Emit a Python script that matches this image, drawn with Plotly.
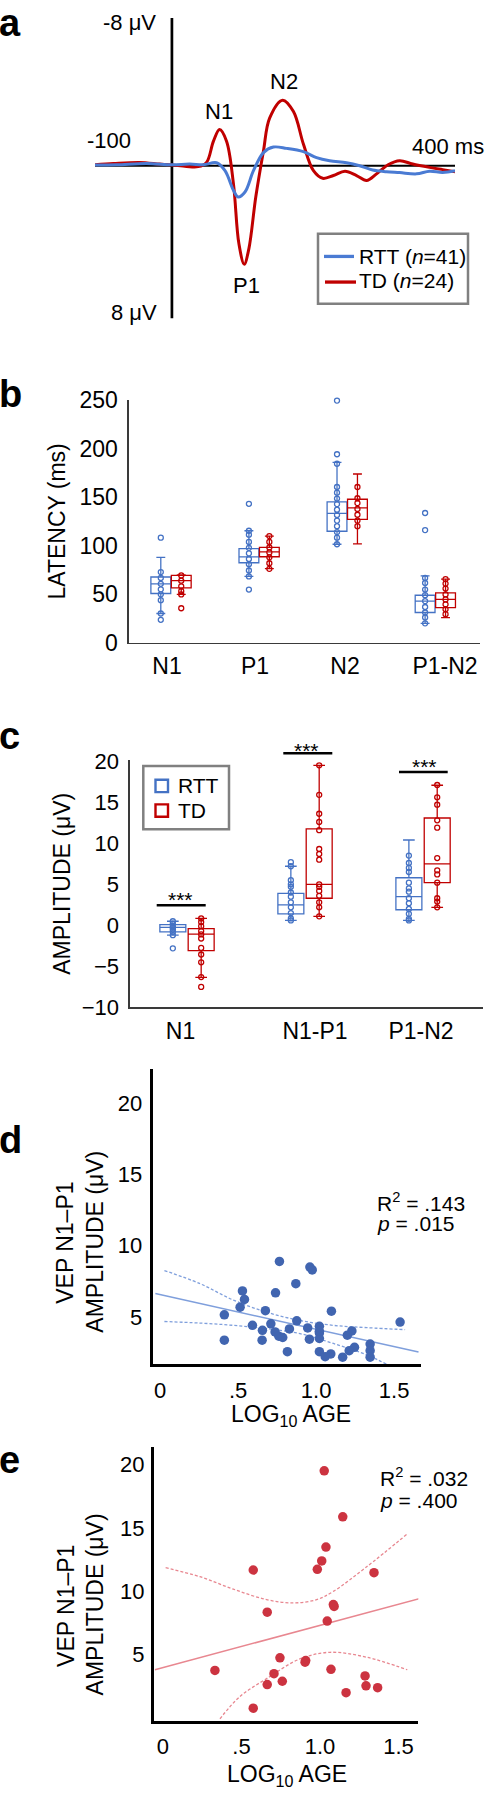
import plotly.graph_objects as go

W, H = 489, 1800
FONT = "Arial, 'Liberation Sans', sans-serif"
BLUE = "#4472C4"
RED = "#C00000"
DBLUE = "#4165B0"
LBLUE = "#7F9FDC"
DRED = "#CC3340"
LRED = "#E88790"

# ---------------- Panel a: grand-average VEP waveforms ----------------
rtt_t = [-100, -72, -33, 0, 23, 41, 58, 69, 80, 86, 95, 106, 119, 132, 149, 171, 188,
         205, 227, 244, 261, 279, 296, 318, 335, 352, 368]
rtt_uv = [-0.04, -0.05, -0.12, -0.05, -0.09, -0.05, -0.16, 0.27, 1.33, 1.69, 1.42, 0.27,
          -0.71, -1.01, -0.94, -0.76, -0.44, -0.27, -0.16, 0.0, 0.23, 0.32, 0.37, 0.44,
          0.30, 0.36, 0.27]
td_t = [-100, -76, -42, -16, 0, 19, 34, 45, 54, 62, 71, 80, 87, 94, 100, 109, 119, 127,
        144, 158, 171, 184, 196, 210, 225, 240, 253, 266, 281, 296, 313, 335, 352, 368]
td_uv = [-0.05, -0.12, -0.18, -0.09, -0.04, 0.04, 0.05, -0.18, -1.33, -1.96, -1.33, 0.98,
         4.2, 5.33, 4.5, 1.69, -0.8, -2.58, -3.55, -2.93, -1.16, 0.27, 0.68, 0.53, 0.30,
         0.53, 0.80, 0.44, -0.05, -0.27, -0.09, 0.09, 0.21, 0.32]

# ---------------- Panel b: latency box plots ----------------
lat_cats = ["N1", "P1", "N2", "P1-N2"]
lat_rtt_q1 = [50.8, 82.5, 115.0, 31.2]
lat_rtt_med = [60.7, 88.5, 133.4, 43.0]
lat_rtt_q3 = [67.8, 97.0, 145.3, 49.0]
lat_rtt_lo = [30.2, 68.4, 101.6, 20.0]
lat_rtt_hi = [88.0, 115.5, 186.0, 69.0]
lat_td_q1 = [56.6, 88.7, 127.3, 36.3]
lat_td_med = [64.0, 93.8, 139.0, 44.7]
lat_td_q3 = [69.4, 98.3, 148.0, 51.5]
lat_td_lo = [49.8, 76.5, 102.0, 26.0]
lat_td_hi = [70.0, 110.0, 174.0, 65.7]
lat_rtt_pts = [
    [108.4, 72.9, 66.9, 60.8, 55.1, 49.9, 43.9, 30.2, 23.7],
    [143.3, 115.5, 111.5, 104.0, 97.9, 92.2, 86.4, 81.0, 74.5, 68.4, 54.9],
    [249.7, 194.4, 184.6, 160.6, 154.8, 148.7, 143.0, 137.2, 131.8, 126.0, 120.2, 114.1,
     108.4, 101.6],
    [133.8, 116.2, 66.8, 61.7, 54.9, 49.1, 43.0, 36.9, 31.2, 26.1, 20.0],
]
lat_td_pts = [
    [69.4, 64.0, 58.2, 53.2, 49.8, 35.6],
    [110.0, 104.0, 98.3, 93.2, 88.1, 82.0, 76.2],
    [160.6, 149.0, 144.0, 138.0, 132.0, 126.0, 120.2],
    [65.7, 61.0, 55.9, 49.8, 44.7, 39.6, 34.6, 29.5],
]
lat_label_pos = [-0.045, 0.953, 1.975, 3.11]

# ---------------- Panel c: amplitude box plots ----------------
amp_cats = ["N1", "N1-P1", "P1-N2"]
amp_rtt_q1 = [-0.8, 1.4, 1.9]
amp_rtt_med = [-0.25, 2.5, 3.5]
amp_rtt_q3 = [0.1, 3.9, 5.8]
amp_rtt_lo = [-1.2, 0.6, 0.6]
amp_rtt_hi = [0.5, 7.2, 10.4]
amp_td_q1 = [-3.07, 3.3, 5.2]
amp_td_med = [-1.08, 5.0, 7.5]
amp_td_q3 = [-0.4, 11.76, 13.08]
amp_td_lo = [-6.35, 1.1, 2.2]
amp_td_hi = [0.84, 19.5, 17.07]
amp_rtt_pts = [
    [0.5, 0.2, -0.1, -0.3, -0.5, -0.8, -1.2, -2.8],
    [7.7, 7.2, 5.5, 5.0, 4.7, 4.0, 3.5, 2.8, 2.2, 1.5, 0.84, 0.6],
    [8.5, 7.6, 7.0, 6.5, 5.2, 4.5, 4.1, 3.3, 2.7, 2.0, 1.4, 0.8, 0.6],
]
amp_td_pts = [
    [0.84, 0.4, -0.1, -0.7, -1.1, -1.6, -2.75, -3.55, -4.5, -6.3, -7.5],
    [19.5, 15.9, 13.6, 12.6, 11.6, 9.3, 8.7, 8.0, 5.0, 4.7, 4.2, 3.6, 2.8, 2.2, 1.1],
    [17.1, 15.6, 14.7, 12.8, 11.9, 8.2, 6.7, 6.2, 5.2, 3.3, 2.9, 2.2],
]
amp_label_pos = [-0.055, 1.085, 1.983]

# ---------------- Panel d: RTT amplitude vs log age ----------------
d_age = [0.765, 0.96, 0.975, 0.87, 0.74, 0.528, 0.541, 0.513, 0.675, 1.098, 0.412, 1.538,
         0.876, 0.71, 0.592, 0.946, 1.021, 0.829, 0.656, 0.737, 1.021, 1.229, 1.20, 0.761,
         0.786, 0.412, 0.654, 0.957, 1.021, 1.346, 0.816, 1.246, 1.212, 1.346, 1.021,
         1.094, 1.058, 1.17, 1.346, 1.021]
d_amp = [8.90, 8.50, 8.30, 7.34, 6.70, 6.83, 6.24, 5.69, 5.45, 5.41, 5.16, 4.65, 4.74,
         4.53, 4.42, 4.24, 4.35, 4.17, 4.07, 3.96, 3.89, 4.03, 3.73, 3.66, 3.57, 3.38, 3.38,
         3.45, 3.50, 3.11, 2.58, 2.88, 2.65, 2.65, 2.58, 2.42, 2.23, 2.19, 2.19, 4.00]
d_fit_x = [-0.03, 1.656]
d_fit_y = [6.65, 2.55]
d_ci_x = [0.028, 0.256, 0.47, 0.684, 0.897, 1.111, 1.325, 1.57]
d_ci_hi = [8.26, 7.34, 6.19, 5.34, 4.76, 4.42, 4.26, 4.12]
d_cilo_x = [0.028, 0.256, 0.47, 0.684, 0.897, 1.111, 1.325, 1.45]
d_ci_lo = [4.69, 4.58, 4.42, 4.19, 3.84, 3.15, 2.35, 1.70]

# ---------------- Panel e: TD amplitude vs log age ----------------
e_age = [1.027, 1.145, 1.038, 1.011, 0.983, 0.575, 1.344, 1.085, 1.09, 0.664, 1.046, 0.745,
         0.909, 0.905, 0.331, 1.07, 0.707, 0.76, 0.664, 1.287, 1.293, 1.367, 1.166, 0.575]
e_amp = [19.52, 15.88, 13.49, 12.40, 11.73, 11.68, 11.47, 8.95, 8.80, 8.35, 7.65, 4.74,
         4.53, 4.40, 3.75, 3.83, 3.49, 2.89, 2.63, 3.31, 2.53, 2.38, 1.99, 0.76]
e_fit_x = [-0.051, 1.648]
e_fit_y = [3.80, 9.47]
e_ci_x = [0.017, 0.236, 0.448, 0.66, 0.83, 0.979, 1.085, 1.297, 1.556]
e_ci_hi = [11.86, 11.15, 10.17, 9.34, 9.08, 9.34, 9.99, 11.93, 14.53]
e_cilo_x = [0.363, 0.49, 0.66, 0.873, 1.064, 1.297, 1.556]
e_ci_lo = [-0.07, 1.68, 3.10, 4.66, 5.18, 4.79, 3.80]


def X(px):
    return px / W


def Y(py):
    return 1 - py / H


fig = go.Figure()

# panel a traces
fig.add_trace(go.Scatter(x=td_t, y=td_uv, mode="lines", xaxis="x", yaxis="y",
                         line=dict(color=RED, width=3, shape="spline")))
fig.add_trace(go.Scatter(x=rtt_t, y=rtt_uv, mode="lines", xaxis="x", yaxis="y",
                         line=dict(color="#4A7BD3", width=3, shape="spline")))


def add_boxes(ax, ay, n, off, width, q1, med, q3, lo, hi, pts, color):
    pos = [i + off for i in range(n)]
    fig.add_trace(go.Box(x=pos, q1=q1, median=med, q3=q3, lowerfence=lo, upperfence=hi,
                         orientation="v", width=width, whiskerwidth=0.45,
                         line=dict(color=color, width=1.3), fillcolor="rgba(255,255,255,0)",
                         boxpoints=False, xaxis=ax, yaxis=ay, hoverinfo="skip"))
    xs, ys = [], []
    for p, vals in zip(pos, pts):
        xs += [p] * len(vals)
        ys += vals
    fig.add_trace(go.Scatter(x=xs, y=ys, mode="markers", xaxis=ax, yaxis=ay,
                             cliponaxis=False,
                             marker=dict(symbol="circle-open", size=5, color=color,
                                         line=dict(width=1.3))))


add_boxes("x2", "y2", 4, -0.116, 0.225, lat_rtt_q1, lat_rtt_med, lat_rtt_q3, lat_rtt_lo,
          lat_rtt_hi, lat_rtt_pts, BLUE)
add_boxes("x2", "y2", 4, 0.116, 0.225, lat_td_q1, lat_td_med, lat_td_q3, lat_td_lo,
          lat_td_hi, lat_td_pts, RED)
add_boxes("x3", "y3", 3, -0.12, 0.22, amp_rtt_q1, amp_rtt_med, amp_rtt_q3, amp_rtt_lo,
          amp_rtt_hi, amp_rtt_pts, BLUE)
add_boxes("x3", "y3", 3, 0.12, 0.22, amp_td_q1, amp_td_med, amp_td_q3, amp_td_lo,
          amp_td_hi, amp_td_pts, RED)

# panel d
fig.add_trace(go.Scatter(x=d_fit_x, y=d_fit_y, mode="lines", xaxis="x4", yaxis="y4",
                         line=dict(color=LBLUE, width=1.5)))
fig.add_trace(go.Scatter(x=d_ci_x, y=d_ci_hi, mode="lines", xaxis="x4", yaxis="y4",
                         line=dict(color=LBLUE, width=1.3, dash="3px,2px", shape="spline")))
fig.add_trace(go.Scatter(x=d_cilo_x, y=d_ci_lo, mode="lines", xaxis="x4", yaxis="y4",
                         line=dict(color=LBLUE, width=1.3, dash="3px,2px", shape="spline")))
fig.add_trace(go.Scatter(x=d_age, y=d_amp, mode="markers", xaxis="x4", yaxis="y4",
                         cliponaxis=False, marker=dict(size=9.5, color=DBLUE)))

# panel e
fig.add_trace(go.Scatter(x=e_fit_x, y=e_fit_y, mode="lines", xaxis="x5", yaxis="y5",
                         line=dict(color=LRED, width=1.5)))
fig.add_trace(go.Scatter(x=e_ci_x, y=e_ci_hi, mode="lines", xaxis="x5", yaxis="y5",
                         line=dict(color=LRED, width=1.3, dash="3px,2px", shape="spline")))
fig.add_trace(go.Scatter(x=e_cilo_x, y=e_ci_lo, mode="lines", xaxis="x5", yaxis="y5",
                         line=dict(color=LRED, width=1.3, dash="3px,2px", shape="spline")))
fig.add_trace(go.Scatter(x=e_age, y=e_amp, mode="markers", xaxis="x5", yaxis="y5",
                         cliponaxis=False, marker=dict(size=9.5, color=DRED)))

TICKF = dict(family=FONT, size=22, color="black")
TICKF_B = dict(family=FONT, size=23, color="black")


def xax(dom, rng, anchor, **kw):
    d = dict(domain=[X(dom[0]), X(dom[1])], range=rng, anchor=anchor, showgrid=False,
             zeroline=False, ticks="", tickfont=TICKF, fixedrange=True)
    d.update(kw)
    return d


def yax(dom, rng, anchor, **kw):
    d = dict(domain=[Y(dom[1]), Y(dom[0])], range=rng, anchor=anchor, showgrid=False,
             zeroline=False, ticks="", tickfont=TICKF, fixedrange=True)
    d.update(kw)
    return d


AX_B = dict(showline=True, linecolor="#3a3a3a", linewidth=1.6)
AX_D = dict(showline=True, linecolor="black", linewidth=3)

layout = dict(
    width=W, height=H, autosize=False, margin=dict(l=0, r=0, t=0, b=0),
    paper_bgcolor="white", plot_bgcolor="white", showlegend=False,
    font=dict(family=FONT, size=22, color="black"),
    xaxis=xax((95, 455), [-100, 368], "y", visible=False),
    yaxis=yax((5, 310), [8.27, -8], "x", visible=False),
    xaxis2=xax((129, 480), [-0.477, 3.507], "y2", tickvals=lat_label_pos,
               ticktext=lat_cats, ticklabelstandoff=2, tickfont=TICKF_B, **AX_B),
    yaxis2=yax((393, 639), [0, 250], "x2", tickvals=[0, 50, 100, 150, 200, 250],
               ticklabelstandoff=5, tickfont=TICKF_B, **AX_B),
    xaxis3=xax((130, 483), [-0.483, 2.508], "y3", tickvals=amp_label_pos,
               ticktext=amp_cats, ticklabelstandoff=2, tickfont=TICKF_B, **AX_B),
    yaxis3=yax((757.5, 1009), [-10, 20.2], "x3", tickvals=[-10, -5, 0, 5, 10, 15, 20],
               ticklabelstandoff=5, **AX_B),
    xaxis4=xax((152.7, 420.7), [-0.047, 1.67], "y4", tickvals=[0, 0.5, 1.0, 1.5],
               ticktext=["0", ".5", "1.0", "1.5"], ticklabelstandoff=4, **AX_D),
    yaxis4=yax((1071.7, 1371), [1.7, 22.36], "x4", tickvals=[5, 10, 15, 20],
               ticklabelstandoff=3, **AX_D),
    xaxis5=xax((154, 418.3), [-0.057, 1.626], "y5", tickvals=[0, 0.5, 1.0, 1.5],
               ticktext=["0", ".5", "1.0", "1.5"], ticklabelstandoff=3, **AX_D),
    yaxis5=yax((1455, 1733.3), [-0.27, 21.4], "x5", tickvals=[5, 10, 15, 20],
               ticklabelstandoff=2, **AX_D),
)


def hline(x0, x1, y, color="black", width=2.5):
    return dict(type="line", xref="paper", yref="paper", x0=X(x0), x1=X(x1), y0=Y(y),
                y1=Y(y), line=dict(color=color, width=width))


def rect(x0, x1, y0, y1, color, width):
    return dict(type="rect", xref="paper", yref="paper", x0=X(x0), x1=X(x1), y0=Y(y1),
                y1=Y(y0), line=dict(color=color, width=width), fillcolor="rgba(0,0,0,0)")


shapes = [
    dict(type="line", xref="x", yref="y", x0=0, x1=0, y0=-8, y1=8.27, layer="below",
         line=dict(color="black", width=2.7)),
    dict(type="line", xref="x", yref="y", x0=-100, x1=368, y0=0, y1=0, layer="below",
         line=dict(color="black", width=2.2)),
    rect(318, 468, 224, 295, "#808080", 2.5),
    hline(324, 354, 247, "#4A7BD3", 3.3),
    hline(325, 356, 273, RED, 3.3),
    rect(143.3, 229, 764, 828.3, "#808080", 2.5),
    rect(155.5, 168, 778, 790.5, BLUE, 2.4),
    rect(155.5, 168, 803, 815.5, RED, 2.4),
    hline(156.7, 205.7, 905.3),
    hline(283.3, 332.3, 751),
    hline(399, 447.7, 770),
]


def txt(s, x, y, size=22, xanchor="center", angle=0):
    return dict(text=s, x=X(x), y=Y(y), xref="paper", yref="paper", xanchor=xanchor,
                yanchor="middle", showarrow=False, textangle=angle,
                font=dict(family=FONT, size=size, color="black"))


annotations = [
    txt("<b>a</b>", -3, 9.7, 38, "left"),
    txt("<b>b</b>", -3, 386.7, 38, "left"),
    txt("<b>c</b>", -3, 733.7, 38, "left"),
    txt("<b>d</b>", -3, 1143.7, 38, "left"),
    txt("<b>e</b>", -3, 1468.7, 38, "left"),
    # panel a
    txt("-8 μV", 158, 9.5, 22, "right"),
    txt("8 μV", 159, 303.5, 22, "right"),
    txt("-100", 109, 129.5, 22),
    txt("400 ms", 486, 135.2, 22, "right"),
    txt("N1", 218.5, 100.2, 22),
    txt("N2", 283.5, 69.5, 22),
    txt("P1", 246.3, 276.2, 22),
    txt("RTT (<i>n</i>=41)", 357, 247.5, 21, "left"),
    txt("TD (<i>n</i>=24)", 357, 271.5, 21, "left"),
    # panel b
    txt("LATENCY (ms)", 57, 516, 23, angle=-90),
    # panel c
    txt("AMPLITUDE (μV)", 62.5, 884, 23, angle=-90),
    txt("RTT", 175.5, 784.3, 21, "left"),
    txt("TD", 175.5, 809.3, 21, "left"),
    txt("***", 180.2, 899.7, 21),
    txt("***", 306.7, 748, 21),
    txt("***", 424.7, 764.7, 21),
    # panel d
    txt("VEP N1–P1", 65.3, 1247.5, 23, angle=-90),
    txt("AMPLITUDE (μV)", 95, 1246.7, 23, angle=-90),
    txt("LOG<sub>10</sub> AGE", 290.7, 1423, 23),
    txt("R<sup>2</sup> = .143", 375, 1206.5, 21, "left"),
    txt("<i>p</i> = .015", 375, 1228.5, 21, "left"),
    # panel e
    txt("VEP N1–P1", 65.3, 1616, 23, angle=-90),
    txt("AMPLITUDE (μV)", 95, 1614.7, 23, angle=-90),
    txt("LOG<sub>10</sub> AGE", 286.7, 1788.8, 23),
    txt("R<sup>2</sup> = .032", 378, 1485.8, 21, "left"),
    txt("<i>p</i> = .400", 378, 1509.2, 21, "left"),
]

layout["shapes"] = shapes
layout["annotations"] = annotations
fig.update_layout(**layout)
fig.write_html(
    "out.html",
    config={"displayModeBar": False, "staticPlot": True},
    post_script="document.documentElement.style.margin='0';"
                "document.body.style.margin='0';document.body.style.overflow='hidden';",
)
